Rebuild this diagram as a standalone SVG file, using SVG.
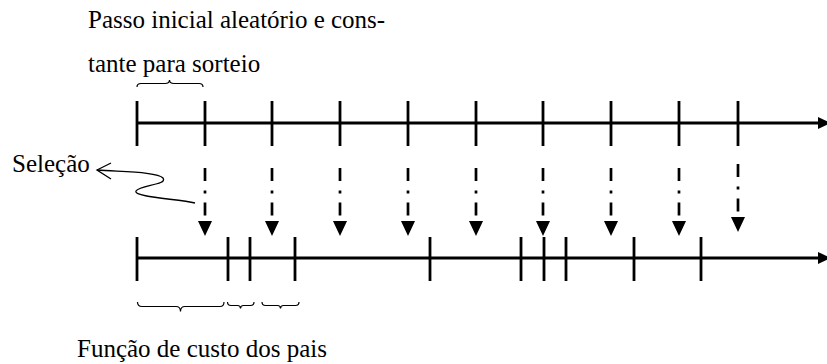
<svg xmlns="http://www.w3.org/2000/svg" width="827" height="364" viewBox="0 0 827 364">
<defs>
<style>
.t{font-family:"Liberation Serif","Times New Roman",serif;font-size:25px;fill:#000}
.axis{stroke:#000;stroke-width:2.8;fill:none}
.tick{stroke:#000;stroke-width:2.8}
.dd{stroke:#000;stroke-width:2.7;stroke-dasharray:13 9.5 3 9 13 200;fill:none}
.head{fill:#000}
.brace{stroke:#000;stroke-width:1.2;fill:none}
.thin{stroke:#000;stroke-width:1.3;fill:none}
</style>
</defs>
<rect width="827" height="364" fill="#fff"/>
<g id="label-passo">
<text class="t" font-family="Liberation Serif, serif" x="88" y="28">Passo inicial aleatório e cons-</text>
<text class="t" font-family="Liberation Serif, serif" x="88" y="72">tante para sorteio</text>
<path class="brace" d="M137,87 Q137,83.5 141,83.5 L165,83.5 Q169.5,83.5 169.5,80 Q169.5,83.5 174,83.5 L199,83.5 Q203,83.5 203,87"/>
</g>
<g id="top-axis">
<line class="axis" x1="137" y1="123" x2="822" y2="123"/>
<polygon class="head" points="818,117 831,123 818,129"/>
<g class="tick">
<line x1="137" y1="101" x2="137" y2="146"/>
<line x1="205" y1="101" x2="205" y2="146"/>
<line x1="272" y1="101" x2="272" y2="146"/>
<line x1="340" y1="101" x2="340" y2="146"/>
<line x1="408" y1="101" x2="408" y2="146"/>
<line x1="476" y1="101" x2="476" y2="146"/>
<line x1="543" y1="101" x2="543" y2="146"/>
<line x1="611" y1="101" x2="611" y2="146"/>
<line x1="679" y1="101" x2="679" y2="146"/>
<line x1="738" y1="101" x2="738" y2="146"/>
</g>
</g>
<g id="bottom-axis">
<line class="axis" x1="137" y1="258" x2="822" y2="258"/>
<polygon class="head" points="818,252 831,258 818,264"/>
<g class="tick">
<line x1="137" y1="237" x2="137" y2="281"/>
<line x1="228" y1="237" x2="228" y2="281"/>
<line x1="250" y1="237" x2="250" y2="281"/>
<line x1="295" y1="237" x2="295" y2="281"/>
<line x1="430" y1="237" x2="430" y2="281"/>
<line x1="521" y1="237" x2="521" y2="281"/>
<line x1="544" y1="237" x2="544" y2="281"/>
<line x1="566" y1="237" x2="566" y2="281"/>
<line x1="634" y1="237" x2="634" y2="281"/>
<line x1="701" y1="237" x2="701" y2="281"/>
</g>
</g>
<g id="connectors">
<line class="dd" x1="205" y1="168" x2="205" y2="216"/><polygon class="head" points="198,221 212,221 205,236"/>
<line class="dd" x1="272" y1="168" x2="272" y2="216"/><polygon class="head" points="265,221 279,221 272,236"/>
<line class="dd" x1="340" y1="168" x2="340" y2="216"/><polygon class="head" points="333,221 347,221 340,236"/>
<line class="dd" x1="408" y1="168" x2="408" y2="216"/><polygon class="head" points="401,221 415,221 408,236"/>
<line class="dd" x1="476" y1="168" x2="476" y2="216"/><polygon class="head" points="469,221 483,221 476,236"/>
<line class="dd" x1="543" y1="168" x2="543" y2="216"/><polygon class="head" points="536,221 550,221 543,236"/>
<line class="dd" x1="611" y1="168" x2="611" y2="216"/><polygon class="head" points="604,221 618,221 611,236"/>
<line class="dd" x1="679" y1="168" x2="679" y2="216"/><polygon class="head" points="672,221 686,221 679,236"/>
<line class="dd" x1="738" y1="164" x2="738" y2="212"/><polygon class="head" points="731,217 745,217 738,232"/>
</g>
<g id="label-selecao">
<text class="t" font-family="Liberation Serif, serif" x="12" y="172">Seleção</text>
<path class="thin" d="M97,170 C125,172 158,172 163,178 C168,185 140,185 136,191 C133,197 178,199 195,203"/>
<path class="thin" d="M111,163 L97,170 L111,179"/>
</g>
<g id="label-funcao">
<path class="brace" d="M137.5,302 Q137.5,306.5 142,306.5 L176,306.5 Q180.5,306.5 180.5,311.5 Q180.5,306.5 185,306.5 L220,306.5 Q224,306.5 224,302"/>
<path class="brace" d="M227.5,302 Q227.5,305.5 231,305.5 L237.5,305.5 Q240.5,305.5 240.5,308.5 Q240.5,305.5 243.5,305.5 L250.5,305.5 Q254,305.5 254,302"/>
<path class="brace" d="M262,302 Q262,305.5 265.5,305.5 L277.5,305.5 Q280.5,305.5 280.5,308.5 Q280.5,305.5 283.5,305.5 L295.5,305.5 Q299,305.5 299,302"/>
<text class="t" font-family="Liberation Serif, serif" x="77" y="357">Função de custo dos pais</text>
</g>
</svg>
